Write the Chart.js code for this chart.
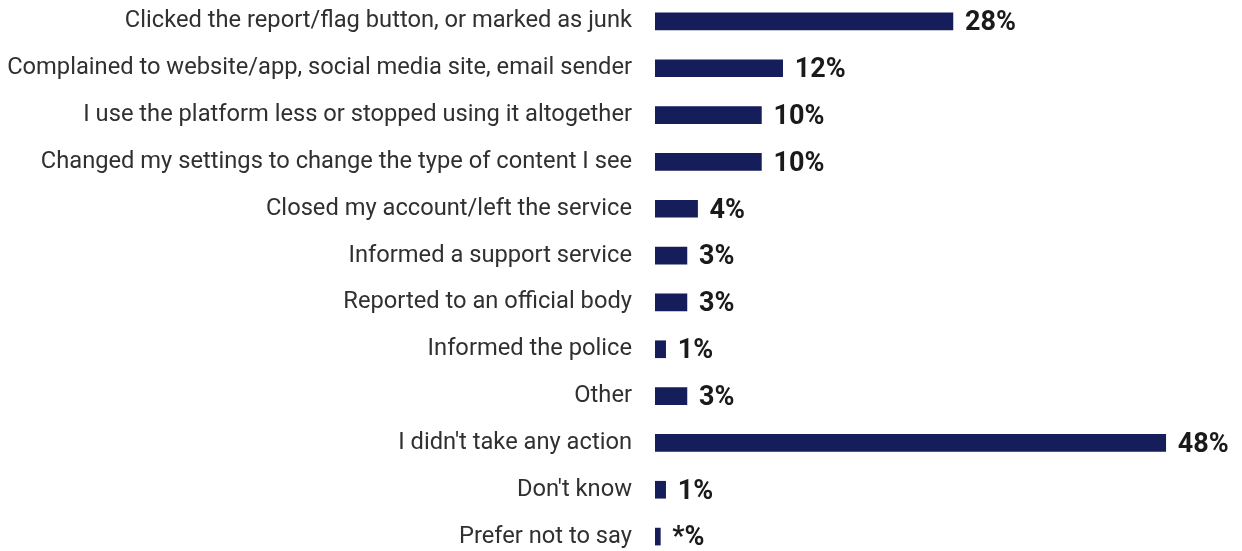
<!DOCTYPE html>
<html>
<head>
<meta charset="utf-8">
<script src="https://cdn.jsdelivr.net/npm/chart.js@4"></script>
<style>
  html, body { margin: 0; padding: 0; background: #fff; overflow: hidden; }
  #wrap { width: 1242px; height: 562px; position: absolute; left: 0; top: -2px; }
</style>
</head>
<body>
<div id="wrap"><canvas id="actionsChart"></canvas></div>
<script>
const actions = [
    'Clicked the report/flag button, or marked as junk',
    'Complained to website/app, social media site, email sender',
    'I use the platform less or stopped using it altogether',
    'Changed my settings to change the type of content I see',
    'Closed my account/left the service',
    'Informed a support service',
    'Reported to an official body',
    'Informed the police',
    'Other',
    "I didn't take any action",
    "Don't know",
    'Prefer not to say'
];
const shares = [28, 12, 10, 10, 4, 3, 3, 1, 3, 48, 1, 0.5];
const shareLabels = ['28%', '12%', '10%', '10%', '4%', '3%', '3%', '1%', '3%', '48%', '1%', '*%'];

const NAVY = '#151d5a';

// percentage text at the end of each bar
const endLabels = {
    id: 'endLabels',
    afterDatasetsDraw(chart) {
        const { ctx } = chart;
        const meta = chart.getDatasetMeta(0);
        ctx.save();
        ctx.font = 'bold 27px Roboto';
        ctx.fillStyle = '#1a1a1a';
        ctx.textAlign = 'left';
        ctx.textBaseline = 'middle';
        meta.data.forEach((bar, i) => {
            ctx.fillText(shareLabels[i], bar.x + 12, bar.y + 2);
        });
        ctx.restore();
    }
};

new Chart(document.getElementById('actionsChart'), {
    type: 'bar',
    data: {
        labels: actions,
        datasets: [{
            data: shares,
            backgroundColor: NAVY,
            barThickness: 17
        }]
    },
    options: {
        indexAxis: 'y',
        responsive: true,
        maintainAspectRatio: false,
        animation: false,
        layout: { padding: { top: 0, bottom: 0, right: 55, left: 0 } },
        plugins: { legend: { display: false }, tooltip: { enabled: false } },
        scales: {
            x: {
                min: 0,
                max: 50,
                display: false
            },
            y: {
                grid: { display: false, drawTicks: false },
                border: { display: false },
                ticks: {
                    padding: 23,
                    color: '#303030',
                    font: { family: 'Roboto', size: 23.7 }
                },
                afterFit(scale) {
                    // fixed gutter for the category names, no extra vertical padding
                    scale.width = 655;
                    scale.paddingTop = 0;
                    scale.paddingBottom = 0;
                }
            }
        }
    },
    plugins: [endLabels]
});
</script>
</body>
</html>
